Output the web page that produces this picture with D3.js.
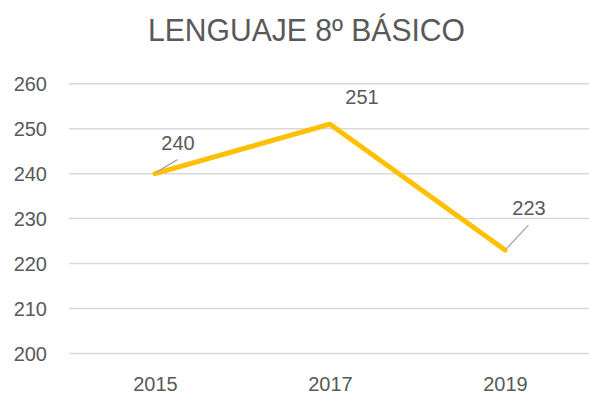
<!DOCTYPE html>
<html>
<head>
<meta charset="utf-8">
<script src="https://cdn.jsdelivr.net/npm/d3@7"></script>
<style>
  html, body { margin: 0; padding: 0; background: #ffffff; }
  svg { display: block; }
  text { font-family: "Liberation Sans", Arial, sans-serif; fill: #595959; }
</style>
</head>
<body>
<script>
// Chart data
const title = "LENGUAJE 8º BÁSICO";
const years = ["2015", "2017", "2019"];
const scores = [240, 251, 223];
const yTicks = [200, 210, 220, 230, 240, 250, 260];
// Label offsets from each point (label centre / baseline), and leader-line flag
const labelDx = [23, 32, 24];
const labelDy = [-24, -20, -35];
const hasLeader = [true, false, true];

const W = 589, H = 394;
const svg = d3.select("body").append("svg").attr("width", W).attr("height", H);

const plotLeft = 69, plotRight = 589;
const x = d3.scalePoint().domain(years).range([67.5, 592.5]).padding(0.5);
const y = d3.scaleLinear().domain([200, 260]).range([353.5, 83.7]);

// Title
svg.append("text")
  .attr("x", 306.5).attr("y", 41)
  .attr("text-anchor", "middle")
  .attr("font-size", 32)
  .attr("textLength", 317)
  .attr("lengthAdjust", "spacingAndGlyphs")
  .text(title);

// Horizontal gridlines
svg.append("g").selectAll("line").data(yTicks).join("line")
  .attr("x1", plotLeft).attr("x2", plotRight)
  .attr("y1", d => y(d)).attr("y2", d => y(d))
  .attr("stroke", "#d9d9d9").attr("stroke-width", 1.5);

// Y axis labels
const yAxis = d3.axisLeft(y).tickValues(yTicks).tickSize(0).tickPadding(0);
const gy = svg.append("g").attr("transform", "translate(47,0)").call(yAxis);
gy.select(".domain").remove();
gy.selectAll("text")
  .attr("font-size", 20).attr("fill", "#595959")
  .attr("font-family", "Liberation Sans, Arial, sans-serif")
  .attr("dy", "0.36em");

// X axis labels
const xAxis = d3.axisBottom(x).tickSize(0).tickPadding(0);
const gx = svg.append("g").attr("transform", "translate(0,377)").call(xAxis);
gx.select(".domain").remove();
gx.selectAll("text")
  .attr("font-size", 20).attr("fill", "#595959")
  .attr("font-family", "Liberation Sans, Arial, sans-serif")
  .attr("dy", "0.72em");

// Series line
const pts = years.map((yr, i) => ({ yr, v: scores[i], i }));
svg.append("path")
  .datum(pts)
  .attr("fill", "none")
  .attr("stroke", "#ffc000")
  .attr("stroke-width", 5)
  .attr("stroke-linejoin", "round")
  .attr("stroke-linecap", "round")
  .attr("d", d3.line().x(d => x(d.yr)).y(d => y(d.v)));

// Leader lines
svg.append("g").selectAll("line").data(pts.filter(d => hasLeader[d.i])).join("line")
  .attr("x1", d => x(d.yr) + 1.5).attr("y1", d => y(d.v) - 1.5)
  .attr("x2", d => x(d.yr) + labelDx[d.i] - 0.5)
  .attr("y2", d => y(d.v) + labelDy[d.i] + 10)
  .attr("stroke", "#a6a6a6").attr("stroke-width", 1.3);

// Data labels
svg.append("g").selectAll("text").data(pts).join("text")
  .attr("x", d => x(d.yr) + labelDx[d.i])
  .attr("y", d => y(d.v) + labelDy[d.i])
  .attr("text-anchor", "middle")
  .attr("font-size", 20)
  .attr("fill", "#404040")
  .text(d => d.v);
</script>
</body>
</html>
